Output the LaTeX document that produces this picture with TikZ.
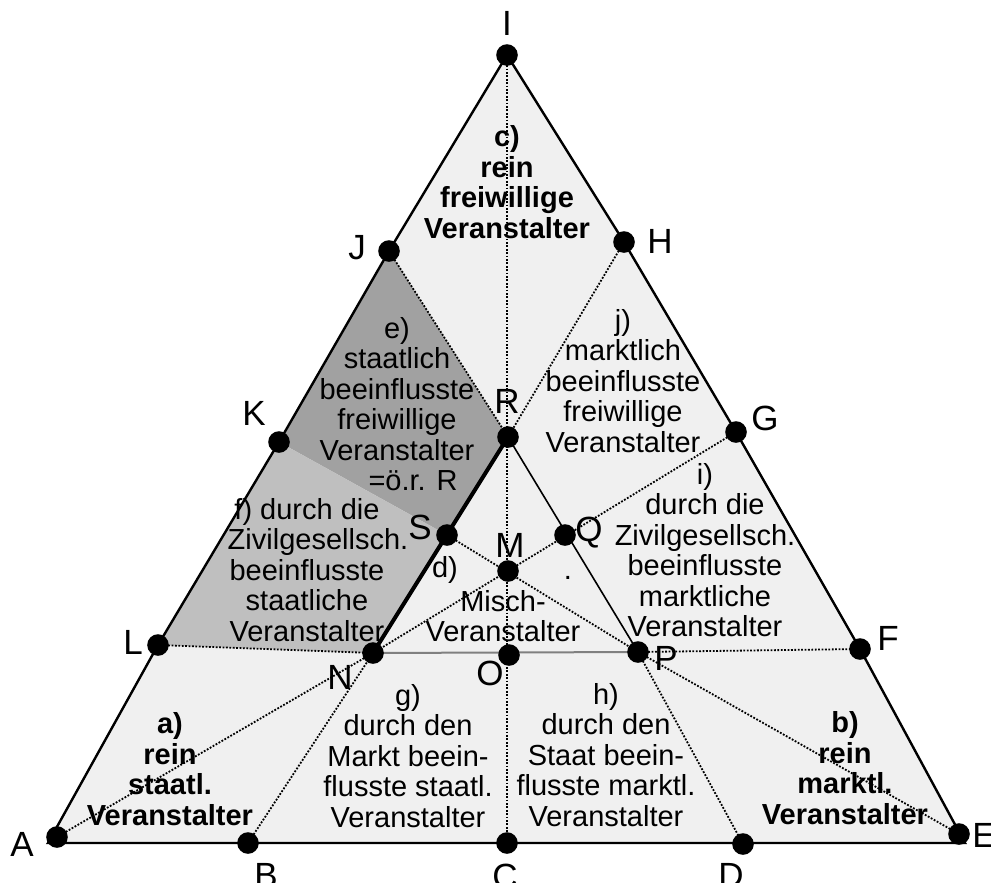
\documentclass[tikz,border=0pt]{standalone}
\usepackage{fontspec}
\setmainfont{Liberation Sans}
\definecolor{bgtri}{gray}{0.94}
\definecolor{darkreg}{gray}{0.63}
\definecolor{midreg}{gray}{0.75}
\definecolor{npline}{gray}{0.5}
\tikzset{
  txt/.style={font=\fontsize{14.5bp}{15.25bp}\selectfont, align=center, inner sep=0pt},
  btxt/.style={font=\fontsize{14.5bp}{15.25bp}\selectfont\bfseries, align=center, inner sep=0pt},
  lbl/.style={font=\fontsize{17.5bp}{19bp}\selectfont, inner sep=0pt},
  dotln/.style={line width=0.9bp, dash pattern=on 0.9bp off 0.8bp},
  outln/.style={line width=1.2bp, line join=miter},
  ptdot/.style={fill=black},
}
\begin{document}
\begin{tikzpicture}[x=0.5bp,y=-0.5bp]
\useasboundingbox (0,0) rectangle (991,883);
% corners of the outline
\coordinate (A0) at (48,843);
\coordinate (E0) at (965,843);
% points
\coordinate (A) at (57,837);
\coordinate (B) at (248,843);
\coordinate (C) at (507,843);
\coordinate (D) at (743,844);
\coordinate (E) at (959,834);
\coordinate (F) at (860,649);
\coordinate (G) at (736,432);
\coordinate (H) at (624,242);
\coordinate (I) at (507,55);
\coordinate (J) at (389,251);
\coordinate (K) at (279,442);
\coordinate (L) at (158,645);
\coordinate (N) at (373,653);
\coordinate (O) at (509,655);
\coordinate (P) at (638,652);
\coordinate (R) at (508,437);
\coordinate (S) at (447,535);
\coordinate (M) at (508,571);
\coordinate (Q) at (565,535);

% fills
\fill[bgtri] (A0) -- (L) -- (K) -- (J) -- (I) -- (H) -- (G) -- (F) -- (E0) -- cycle;
\fill[darkreg] (J) -- (R) -- (S) -- (K) -- cycle;
\fill[midreg] (K) -- (S) -- (N) -- (L) -- cycle;

% dotted connectors
\draw[dotln] (I) -- (C);
\draw[dotln] (J) -- (R);
\draw[dotln] (H) -- (R);
\draw[dotln] (G) -- (N);
\draw[dotln] (S) -- (P);
\draw[dotln] (A) -- (N);
\draw[dotln] (B) -- (N);
\draw[dotln] (L) -- (N);
\draw[dotln] (P) -- (F);
\draw[dotln] (P) -- (D);
\draw[dotln] (P) -- (E);

% solid inner lines
\draw[npline, line width=1bp] (N) -- (P);
\draw[line width=0.8bp] (R) -- (P);
\draw[line width=2bp] (N) -- (R);

% outline
\draw[outln] (A0) -- (L) -- (K) -- (J) -- (I) -- (H) -- (G) -- (F) -- (E0) -- cycle;

% dots
\foreach \p in {A,B,C,D,E,F,G,H,I,J,K,L,N,O,P,R,S,M,Q}
  \fill[ptdot] (\p) circle[radius=5.4bp];

% point labels
\node[lbl] (lI) at (507,23) {I};
\node[lbl] (lJ) at (357,248) {J};
\node[lbl] (lH) at (660,241) {H};
\node[lbl] (lK) at (254,413) {K};
\node[lbl] (lG) at (765,418) {G};
\node[lbl] (lL) at (133,642) {L};
\node[lbl] (lF) at (888,638) {F};
\node[lbl] (lR) at (507,401) {R};
\node[lbl] (lS) at (420,527) {S};
\node[lbl] (lM) at (510,545) {M};
\node[lbl] (lQ) at (589,533) {Q};
\node[lbl] (lN) at (340,677) {N};
\node[lbl] (lO) at (490,673) {O};
\node[lbl] (lP) at (666,658) {P};
\node[lbl] (lA) at (22,844) {A};
\node[lbl] (lB) at (266,875) {B};
\node[lbl] (lC) at (505,876) {C};
\node[lbl] (lD) at (731,875) {D};
\node[lbl] (lE) at (984,835) {E};

% region texts
\node[btxt] (tc) at (507,182) {c)\\rein\\freiwillige\\Veranstalter};
\node[txt] (te) at (397,404) {e)\\staatlich\\beeinflusste\\freiwillige\\Veranstalter\\\hspace*{16bp}=ö.r. R};
\node[txt] (tf) at (307,570) {f) durch die\\\hspace*{11bp}Zivilgesellsch.\\beeinflusste\\staatliche\\Veranstalter};
\node[txt] (td) at (445,570) {d)};
\node[txt] (tmisch) at (503,616) {Misch-\\Veranstalter};
\node[txt, anchor=base] (tpt) at (568,579) {.};
\node[txt] (tj) at (623,381) {j)\\marktlich\\beeinflusste\\freiwillige\\Veranstalter};
\node[txt] (ti) at (705,550) {i)\\durch die\\Zivilgesellsch.\\beeinflusste\\marktliche\\Veranstalter};
\node[txt] (tg) at (408,756) {g)\\durch den\\Markt beein-\\flusste staatl.\\Veranstalter};
\node[txt] (th) at (606,755) {h)\\durch den\\Staat beein-\\flusste marktl.\\Veranstalter};
\node[btxt] (ta) at (170,769) {a)\\rein\\staatl.\\Veranstalter};
\node[btxt] (tb) at (845,768) {b)\\rein\\marktl.\\Veranstalter};
\end{tikzpicture}
\end{document}
